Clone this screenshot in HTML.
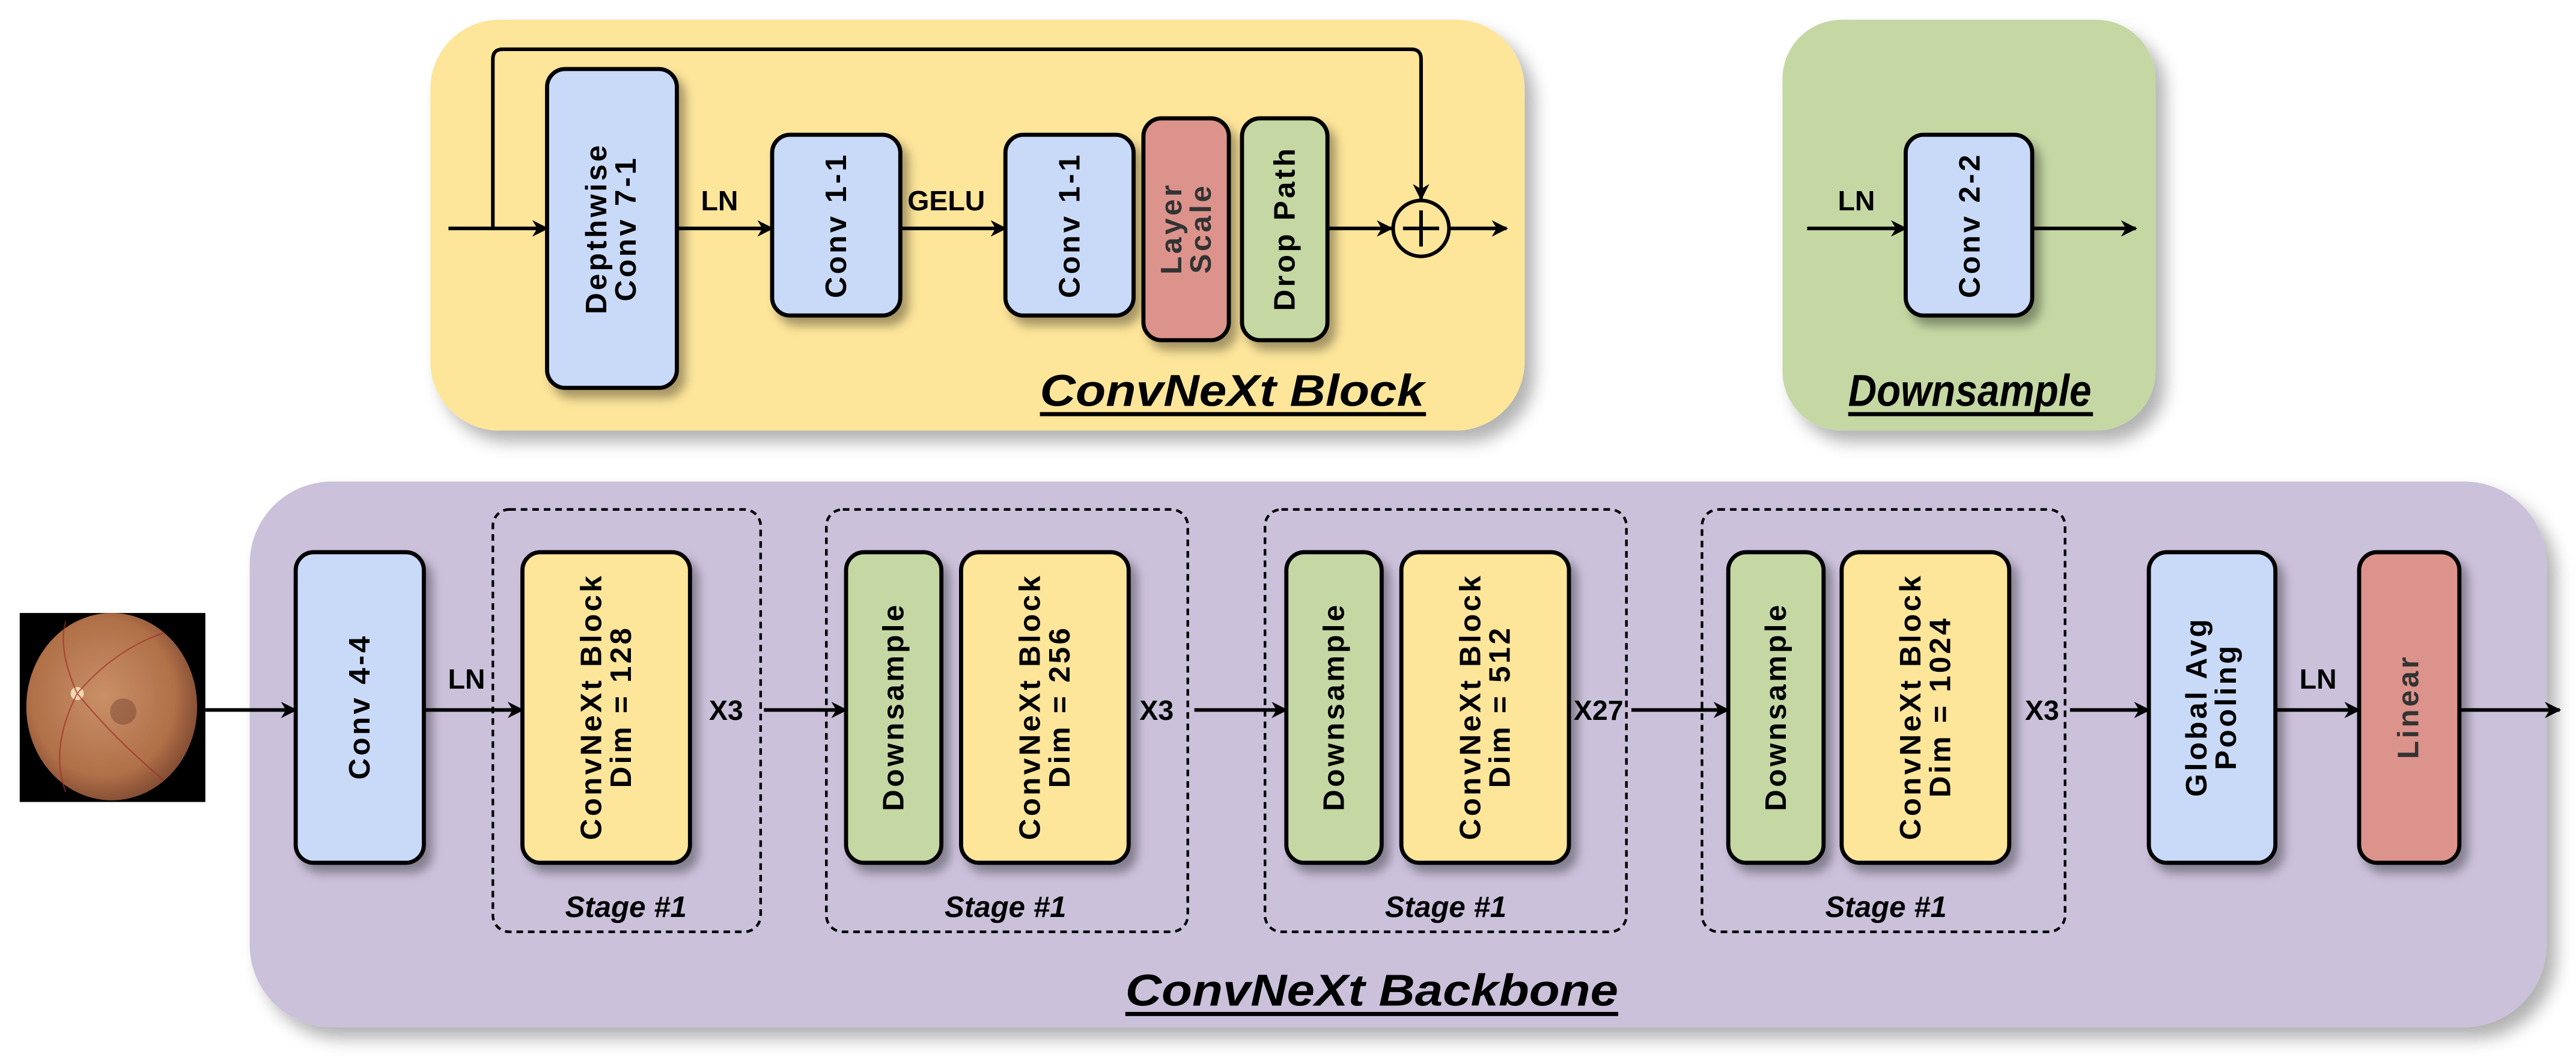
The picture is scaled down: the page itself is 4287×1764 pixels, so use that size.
<!DOCTYPE html>
<html><head><meta charset="utf-8"><style>html,body{margin:0;padding:0;background:#fff}svg{display:block}</style></head><body>
<svg width="4287" height="1764" viewBox="0 0 1568 645" preserveAspectRatio="none" xmlns="http://www.w3.org/2000/svg" font-family="Liberation Sans, sans-serif">
<defs>
<filter id="sh" x="-20%" y="-20%" width="150%" height="150%"><feDropShadow dx="4" dy="5" stdDeviation="3" flood-color="#000" flood-opacity="0.35"/></filter>
<filter id="sh2" x="-10%" y="-10%" width="130%" height="130%"><feDropShadow dx="6" dy="7" stdDeviation="5" flood-color="#000" flood-opacity="0.3"/></filter>
<marker id="ar" markerWidth="10" markerHeight="10" refX="9" refY="5" orient="auto" markerUnits="userSpaceOnUse"><path d="M0,0 L10,5 L0,10 L3,5 Z" fill="#000"/></marker>
<radialGradient id="eye" cx="0.45" cy="0.45" r="0.6"><stop offset="0" stop-color="#c99068"/><stop offset="0.7" stop-color="#b07048"/><stop offset="1" stop-color="#7a4530"/></radialGradient>
</defs>
<rect x="262" y="12" width="666" height="250" rx="42" fill="#fde59a" filter="url(#sh2)"/>
<rect x="1085" y="12" width="227" height="250" rx="36" fill="#c5d8a4" filter="url(#sh2)"/>
<rect x="152" y="293" width="1398" height="332" rx="50" fill="#cbc1db" filter="url(#sh2)"/>

<g stroke="#000" stroke-width="2.2" fill="none">
<line x1="273" y1="139" x2="333" y2="139" marker-end="url(#ar)"/>
<path d="M300,139 V36 Q300,30 306,30 H859 Q865,30 865,36 V121" marker-end="url(#ar)"/>
<line x1="412" y1="139" x2="470" y2="139" marker-end="url(#ar)"/>
<line x1="548" y1="139" x2="612" y2="139" marker-end="url(#ar)"/>
<line x1="808" y1="139" x2="847" y2="139" marker-end="url(#ar)"/>
<line x1="883" y1="139" x2="917" y2="139" marker-end="url(#ar)"/>
<line x1="1100" y1="139" x2="1160" y2="139" marker-end="url(#ar)"/>
<line x1="1237" y1="139" x2="1300" y2="139" marker-end="url(#ar)"/>
<line x1="125" y1="432" x2="180" y2="432" marker-end="url(#ar)"/>
<line x1="258" y1="432" x2="318" y2="432" marker-end="url(#ar)"/>
<line x1="465" y1="432" x2="515" y2="432" marker-end="url(#ar)"/>
<line x1="727" y1="432" x2="783" y2="432" marker-end="url(#ar)"/>
<line x1="993" y1="432" x2="1052" y2="432" marker-end="url(#ar)"/>
<line x1="1260" y1="432" x2="1308" y2="432" marker-end="url(#ar)"/>
<line x1="1385" y1="432" x2="1436" y2="432" marker-end="url(#ar)"/>
<line x1="1497" y1="432" x2="1558" y2="432" marker-end="url(#ar)"/>
</g>
<circle cx="865" cy="139" r="17" fill="#fde59a" stroke="#000" stroke-width="2.2"/>
<path d="M865,128 V150 M854,139 H876" stroke="#000" stroke-width="2.2"/>

<g fill="none" stroke="#000" stroke-width="1.6" stroke-dasharray="4,3">
<rect x="300" y="310" width="163" height="257" rx="10"/>
<rect x="503" y="310" width="220" height="257" rx="10"/>
<rect x="770" y="310" width="220" height="257" rx="10"/>
<rect x="1036" y="310" width="221" height="257" rx="10"/>
</g>

<g stroke="#000" stroke-width="2.5" filter="url(#sh)">
<rect x="333" y="42" width="79" height="194" rx="11" fill="#c9daf8"/>
<rect x="470" y="82" width="78" height="110" rx="11" fill="#c9daf8"/>
<rect x="612" y="82" width="78" height="110" rx="11" fill="#c9daf8"/>
<rect x="696" y="72" width="52" height="135" rx="11" fill="#dc938c"/>
<rect x="756" y="72" width="52" height="135" rx="11" fill="#c5d8a4"/>
<rect x="1160" y="82" width="77" height="110" rx="11" fill="#c9daf8"/>
<rect x="180" y="336" width="78" height="189" rx="11" fill="#c9daf8"/>
<rect x="318" y="336" width="102" height="189" rx="11" fill="#fde59a"/>
<rect x="515" y="336" width="58" height="189" rx="11" fill="#c5d8a4"/>
<rect x="585" y="336" width="102" height="189" rx="11" fill="#fde59a"/>
<rect x="783" y="336" width="58" height="189" rx="11" fill="#c5d8a4"/>
<rect x="853" y="336" width="102" height="189" rx="11" fill="#fde59a"/>
<rect x="1052" y="336" width="58" height="189" rx="11" fill="#c5d8a4"/>
<rect x="1121" y="336" width="102" height="189" rx="11" fill="#fde59a"/>
<rect x="1308" y="336" width="77" height="189" rx="11" fill="#c9daf8"/>
<rect x="1436" y="336" width="61" height="189" rx="11" fill="#dc938c"/>
</g>

<g font-weight="bold" font-size="18" text-anchor="middle" fill="#000" letter-spacing="1.6">
<text transform="translate(372,139) rotate(-90)"><tspan x="0" y="-3">Depthwise</tspan><tspan x="0" y="15">Conv 7-1</tspan></text>
<text transform="translate(509,137) rotate(-90)"><tspan x="0" y="6">Conv 1-1</tspan></text>
<text transform="translate(651,137) rotate(-90)"><tspan x="0" y="6">Conv 1-1</tspan></text>
<text transform="translate(722,139) rotate(-90)" fill="#333"><tspan x="0" y="-3">Layer</tspan><tspan x="0" y="15">Scale</tspan></text>
<text transform="translate(782,139) rotate(-90)"><tspan x="0" y="6">Drop Path</tspan></text>
<text transform="translate(1199,137) rotate(-90)"><tspan x="0" y="6">Conv 2-2</tspan></text>
<text transform="translate(219,430) rotate(-90)"><tspan x="0" y="6">Conv 4-4</tspan></text>
<text transform="translate(369,430) rotate(-90)"><tspan x="0" y="-3">ConvNeXt Block</tspan><tspan x="0" y="15">Dim = 128</tspan></text>
<text transform="translate(544,430) rotate(-90)"><tspan x="0" y="6">Downsample</tspan></text>
<text transform="translate(636,430) rotate(-90)"><tspan x="0" y="-3">ConvNeXt Block</tspan><tspan x="0" y="15">Dim = 256</tspan></text>
<text transform="translate(812,430) rotate(-90)"><tspan x="0" y="6">Downsample</tspan></text>
<text transform="translate(904,430) rotate(-90)"><tspan x="0" y="-3">ConvNeXt Block</tspan><tspan x="0" y="15">Dim = 512</tspan></text>
<text transform="translate(1081,430) rotate(-90)"><tspan x="0" y="6">Downsample</tspan></text>
<text transform="translate(1172,430) rotate(-90)"><tspan x="0" y="-3">ConvNeXt Block</tspan><tspan x="0" y="15">Dim = 1024</tspan></text>
<text transform="translate(1346,430) rotate(-90)"><tspan x="0" y="-3">Global Avg</tspan><tspan x="0" y="15">Pooling</tspan></text>
<text transform="translate(1466,430) rotate(-90)" fill="#333"><tspan x="0" y="6">Linear</tspan></text>
</g>

<g font-weight="bold" font-size="17" text-anchor="middle" fill="#000">
<text x="438" y="128">LN</text>
<text x="576" y="128">GELU</text>
<text x="1130" y="128">LN</text>
<text x="284" y="419">LN</text>
<text x="442" y="438">X3</text>
<text x="704" y="438">X3</text>
<text x="973" y="438">X27</text>
<text x="1243" y="438">X3</text>
<text x="1411" y="419">LN</text>
</g>
<g font-weight="bold" font-style="italic" font-size="18" text-anchor="middle" fill="#000">
<text x="381" y="558">Stage #1</text>
<text x="612" y="558">Stage #1</text>
<text x="880" y="558">Stage #1</text>
<text x="1148" y="558">Stage #1</text>
</g>
<g font-weight="bold" font-style="italic" font-size="27" text-anchor="middle" fill="#000">
<text x="750" y="247" textLength="234" lengthAdjust="spacingAndGlyphs">ConvNeXt Block</text>
<text x="1199" y="247" textLength="148" lengthAdjust="spacingAndGlyphs">Downsample</text>
<text x="835" y="612" textLength="300" lengthAdjust="spacingAndGlyphs">ConvNeXt Backbone</text>
</g>
<g stroke="#000" stroke-width="2.5">
<line x1="633" y1="252" x2="868" y2="252"/>
<line x1="1125" y1="252" x2="1274" y2="252"/>
<line x1="685" y1="617" x2="985" y2="617"/>
</g>

<rect x="12" y="373" width="113" height="115" fill="#000"/>
<ellipse cx="68" cy="430" rx="52" ry="57" fill="url(#eye)"/>
<circle cx="47" cy="422" r="4" fill="#f4d8b0"/>
<circle cx="75" cy="433" r="8" fill="#6a3a2a" opacity="0.4"/>
<g stroke="#a03028" stroke-width="0.8" fill="none" opacity="0.7">
<path d="M47,422 Q70,395 100,385"/><path d="M47,422 Q70,450 100,475"/><path d="M47,422 Q35,395 40,378"/><path d="M47,422 Q30,455 40,482"/>
</g>
</svg>
</body></html>
